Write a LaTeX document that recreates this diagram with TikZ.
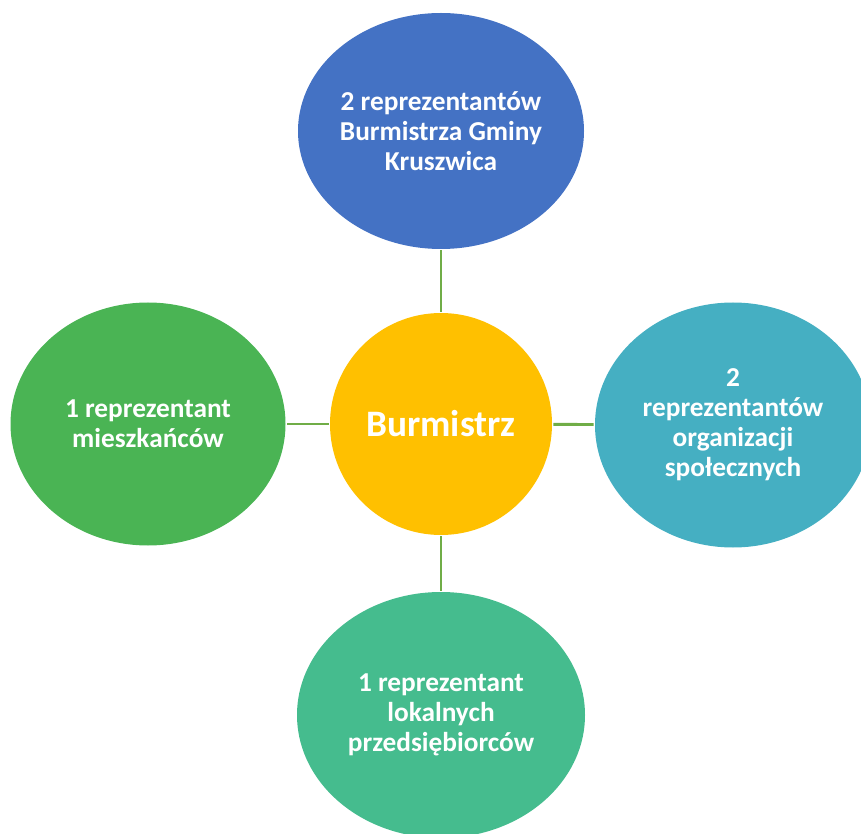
\documentclass[tikz,border=0pt]{standalone}
\usepackage{fontspec}
\setmainfont{Carlito}
\usetikzlibrary{shapes.geometric}
\definecolor{topblue}{HTML}{4472C4}
\definecolor{midgold}{HTML}{FFC000}
\definecolor{leftgreen}{HTML}{4AB454}
\definecolor{rightteal}{HTML}{45AFC2}
\definecolor{bottomgreen}{HTML}{45BC8E}
\definecolor{linkgreen}{HTML}{70AD47}
\begin{document}
\begin{tikzpicture}[x=0.75pt,y=-0.75pt,
    bubble/.style={ellipse,inner sep=0pt,outer sep=1pt,text=white,align=center,
        font=\fontsize{20.5}{22.5}\selectfont\bfseries},
    link/.style={draw=linkgreen,line width=2.2pt}]

    \useasboundingbox (0,0) rectangle (861,834);

    \node[bubble,fill=midgold,minimum width=166.5pt,minimum height=166.5pt,
        font=\fontsize{28}{32}\selectfont\bfseries] (burm) at (441,424) {Burmistrz};
    \node[bubble,fill=topblue,minimum width=214.5pt,minimum height=177pt] (top) at (441,131)
        {2 reprezentantów\\Burmistrza Gminy\\Kruszwica};
    \node[bubble,fill=leftgreen,minimum width=206.25pt,minimum height=182.25pt] (left) at (148,424)
        {1 reprezentant\\mieszkańców};
    \node[bubble,fill=rightteal,minimum width=207pt,minimum height=183.75pt] (right) at (733,425)
        {2\\reprezentantów\\organizacji\\społecznych};
    \node[bubble,fill=bottomgreen,minimum width=216pt,minimum height=184.5pt] (bottom) at (441,715)
        {1 reprezentant\\lokalnych\\przedsiębiorców};

    \foreach \n in {top,left,right,bottom}
    \draw[link] (burm) -- (\n);

\end{tikzpicture}
\end{document}
